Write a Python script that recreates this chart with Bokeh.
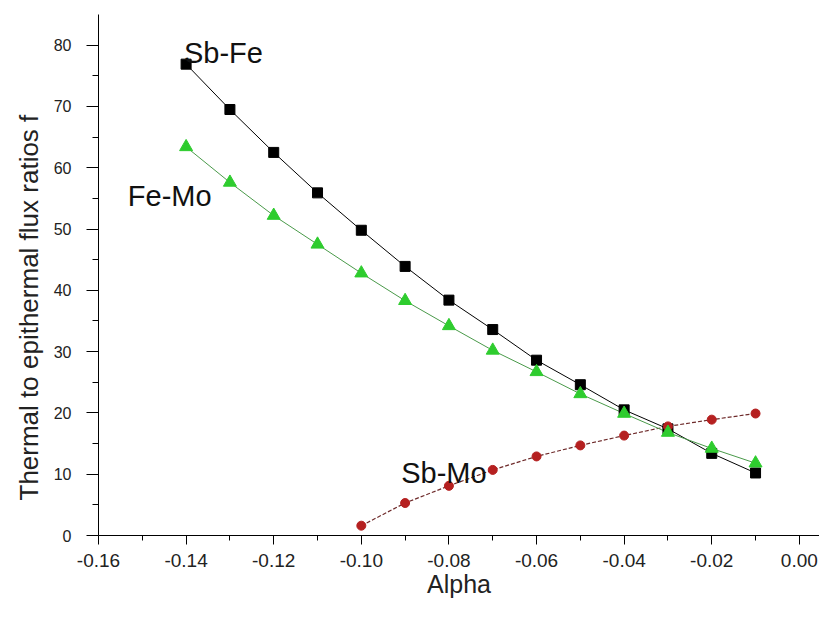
from bokeh.plotting import figure
from bokeh.models import Range1d, FixedTicker, Label, Title
from bokeh.embed import file_html
from bokeh.resources import INLINE

# ---- data ----
alpha = [-0.14, -0.13, -0.12, -0.11, -0.10, -0.09, -0.08, -0.07,
         -0.06, -0.05, -0.04, -0.03, -0.02, -0.01]
sb_fe = [76.9, 69.5, 62.5, 55.9, 49.8, 43.9, 38.4, 33.6,
         28.6, 24.6, 20.5, 17.4, 13.4, 10.2]
fe_mo = [63.4, 57.6, 52.2, 47.5, 42.8, 38.3, 34.2, 30.2,
         26.7, 23.1, 19.9, 16.8, 14.2, 11.8]
alpha_sbmo = [-0.10, -0.09, -0.08, -0.07, -0.06, -0.05, -0.04, -0.03, -0.02, -0.01]
sb_mo = [1.6, 5.3, 8.1, 10.7, 12.9, 14.7, 16.3, 17.8, 18.9, 19.9]

x_ticks = [-0.16, -0.14, -0.12, -0.10, -0.08, -0.06, -0.04, -0.02, 0.00]
x_tick_labels = ["-0.16", "-0.14", "-0.12", "-0.10", "-0.08", "-0.06", "-0.04", "-0.02", "0.00"]
x_minor = [-0.15, -0.13, -0.11, -0.09, -0.07, -0.05, -0.03, -0.01]
y_ticks = [0, 10, 20, 30, 40, 50, 60, 70, 80]
y_minor = [5, 15, 25, 35, 45, 55, 65, 75]

series_names = ["Sb-Fe", "Fe-Mo", "Sb-Mo"]
label_x = [-0.1405, -0.1533, -0.0909]
label_y = [78.7, 55.4, 10.2]

x_title = "Alpha"
y_title = "Thermal to epithermal flux ratios f"

FONT = "Liberation Sans"

p = figure(width=819, height=602, output_backend="svg", toolbar_location=None,
           x_range=Range1d(-0.16, 0.0046), y_range=Range1d(0, 85.0),
           min_border_left=98, min_border_right=0, min_border_top=14,
           min_border_bottom=67)
p.outline_line_color = None
p.grid.visible = False
p.background_fill_color = "white"

# lines
p.line(alpha, sb_fe, line_color="black", line_width=1)
p.line(alpha_sbmo, sb_mo, line_color="#6e2a2a", line_width=1.2, line_dash="4 2")
p.line(alpha, fe_mo, line_color="#4a9a4a", line_width=1)

# markers
p.scatter(alpha, sb_fe, marker="square", size=10, fill_color="black", line_color="black")
p.scatter(alpha_sbmo, sb_mo, marker="circle", size=9, fill_color="#b52020", line_color="#b52020")
p.scatter(alpha, fe_mo, marker="triangle", size=13, fill_color="#2ecc2e", line_color="#2ecc2e")

# series labels
for name, lx, ly in zip(series_names, label_x, label_y):
    p.add_layout(Label(x=lx, y=ly, text=name, text_font=FONT, text_font_size="29px",
                       text_color="#111111", text_baseline="alphabetic", text_align="left"))

# y title as a side title (lets it sit a little below the frame centre)
p.add_layout(Title(text=y_title, align="left", offset=35, text_font=FONT,
                   text_font_size="26px", text_font_style="normal",
                   text_color="#222222", standoff=13), "left")

# axes
xa = p.xaxis[0]
xa.ticker = FixedTicker(ticks=x_ticks, minor_ticks=x_minor)
xa.major_label_overrides = {t: l for t, l in zip(x_ticks, x_tick_labels)}
xa.axis_label = x_title
xa.major_tick_out = 9
xa.major_tick_in = 0
xa.minor_tick_out = 5
xa.minor_tick_in = 0
xa.major_label_standoff = 9
xa.axis_label_standoff = 0

ya = p.yaxis[0]
ya.ticker = FixedTicker(ticks=y_ticks, minor_ticks=y_minor)
ya.major_tick_out = 12
ya.major_tick_in = 0
ya.minor_tick_out = 6
ya.minor_tick_in = 0
ya.major_label_standoff = 15

for ax in (xa, ya):
    ax.axis_line_color = "black"
    ax.major_tick_line_color = "black"
    ax.minor_tick_line_color = "black"
    ax.major_label_text_font = FONT
    ax.major_label_text_color = "#222222"
    ax.axis_label_text_font = FONT
    ax.axis_label_text_font_style = "normal"
    ax.axis_label_text_color = "#222222"

xa.axis_label_text_font_size = "25px"
xa.major_label_text_font_size = "19px"
ya.major_label_text_font_size = "16px"

open("out.html", "w").write(file_html(p, INLINE))
